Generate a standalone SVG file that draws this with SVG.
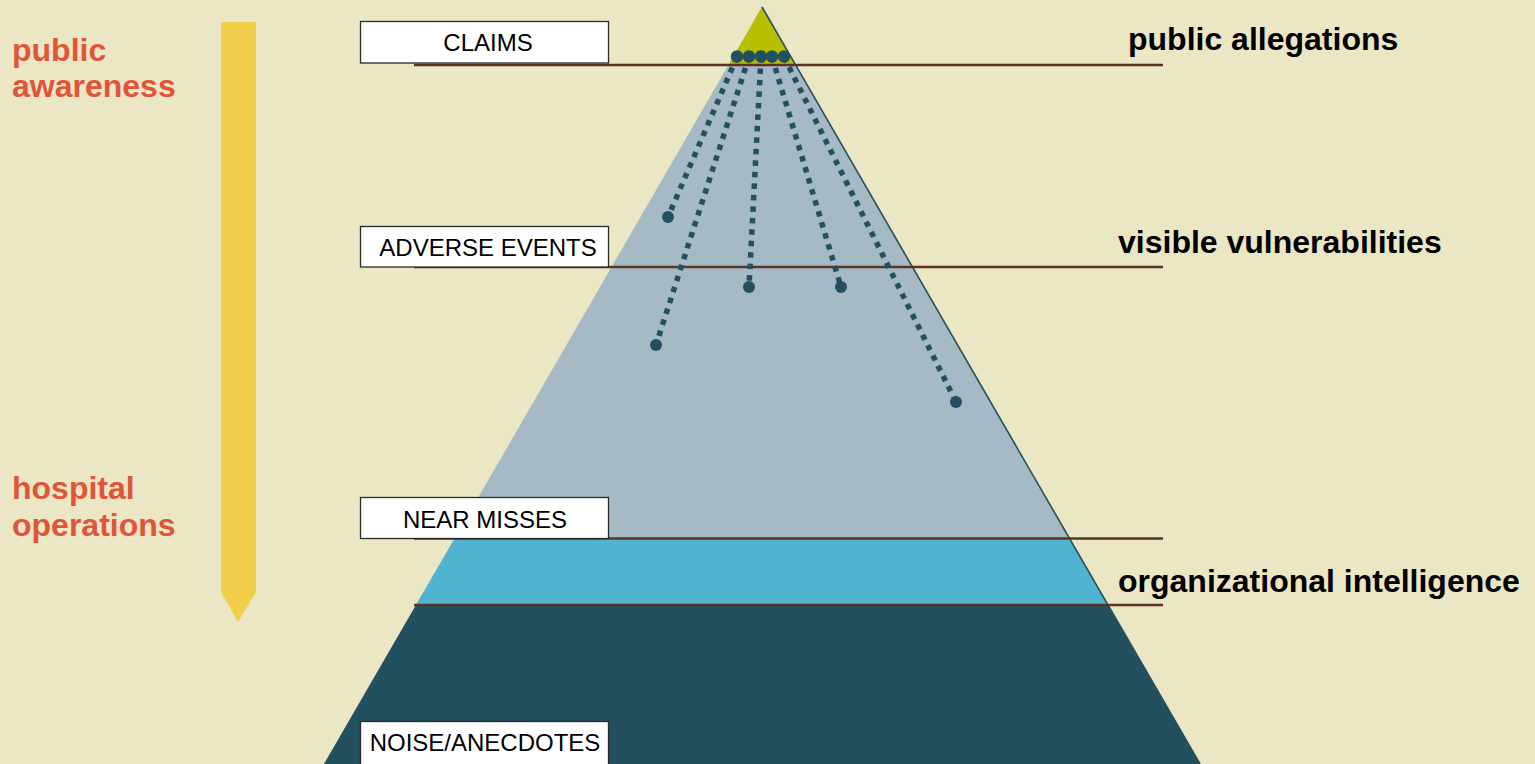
<svg xmlns="http://www.w3.org/2000/svg" width="1535" height="764" viewBox="0 0 1535 764">
<style>
.box{fill:#ffffff;stroke:#2a2a2a;stroke-width:1.3}
.boxt{font-family:"Liberation Sans",Arial,sans-serif;font-size:24px;fill:#000;text-anchor:middle}
.rt{font-family:"Liberation Sans",Arial,sans-serif;font-size:32px;font-weight:bold;fill:#000}
.lt{font-family:"Liberation Sans",Arial,sans-serif;font-size:32px;font-weight:bold;fill:#e0553a}
.hl{stroke:#5b3322;stroke-width:2.4;fill:none}
.dl{stroke:#22505f;stroke-width:5.5;stroke-dasharray:5.5 6;fill:none}
.dot{fill:#22505f}
</style>
<rect x="0" y="0" width="1535" height="764" fill="#ebe6c3"/>
<g id="arrow">
<polygon points="221,22 256,22 256,592 238,622 221,592" fill="#f2cf4a"/>
</g>
<g id="pyramid">
<polygon points="762,7 1200,764 324,764" fill="#a5bac4"/>
<polygon points="416,605 1108,605 1200,764 324,764" fill="#22505f"/>
<polygon points="455,538 1069,538 1108,605 416,605" fill="#50b3d0"/>
<polygon points="762,7 796,66 728,66" fill="#b8be00"/>
<line x1="762" y1="7" x2="1200" y2="764" stroke="#22505f" stroke-width="1.6"/>
</g>
<g id="levels">
<line class="hl" x1="414" y1="65" x2="1163" y2="65"/>
<line class="hl" x1="414" y1="267" x2="1163" y2="267"/>
<line class="hl" x1="414" y1="538.5" x2="1163" y2="538.5"/>
<line class="hl" x1="414" y1="605" x2="1163" y2="605"/>
</g>
<g id="connectors">
<line class="dl" x1="737" y1="57" x2="668" y2="217"/>
<line class="dl" x1="749" y1="57" x2="656" y2="345"/>
<line class="dl" x1="761" y1="57" x2="749" y2="287"/>
<line class="dl" x1="772" y1="57" x2="841" y2="287"/>
<line class="dl" x1="784" y1="57" x2="956" y2="402"/>
<circle class="dot" cx="737" cy="56.5" r="6.2"/>
<circle class="dot" cx="749" cy="56.5" r="6.2"/>
<circle class="dot" cx="761" cy="56.5" r="6.2"/>
<circle class="dot" cx="772" cy="56.5" r="6.2"/>
<circle class="dot" cx="784" cy="56.5" r="6.2"/>
<circle class="dot" cx="668" cy="217" r="6"/>
<circle class="dot" cx="656" cy="345" r="6"/>
<circle class="dot" cx="749" cy="287" r="6"/>
<circle class="dot" cx="841" cy="287" r="6"/>
<circle class="dot" cx="956" cy="402" r="6"/>
</g>
<g id="node-claims">
<rect class="box" x="360.5" y="21.5" width="248" height="41.5"/>
<text class="boxt" x="488" y="51">CLAIMS</text>
</g>
<g id="node-adverse">
<rect class="box" x="360.5" y="226.5" width="248" height="40.5"/>
<text class="boxt" x="488" y="256">ADVERSE EVENTS</text>
</g>
<g id="node-near">
<rect class="box" x="360.5" y="497.5" width="248" height="41"/>
<text class="boxt" x="485" y="528">NEAR MISSES</text>
</g>
<g id="node-noise">
<rect class="box" x="360.5" y="721.5" width="248" height="45"/>
<text class="boxt" x="485" y="751">NOISE/ANECDOTES</text>
</g>
<g id="label-public-allegations"><text class="rt" x="1128" y="50">public allegations</text></g>
<g id="label-visible"><text class="rt" x="1118" y="253">visible vulnerabilities</text></g>
<g id="label-org"><text class="rt" x="1118" y="592">organizational intelligence</text></g>
<g id="label-public-awareness"><text class="lt" x="12" y="61">public</text><text class="lt" x="12" y="97">awareness</text></g>
<g id="label-hospital"><text class="lt" x="12" y="499">hospital</text><text class="lt" x="12" y="536">operations</text></g>
</svg>
